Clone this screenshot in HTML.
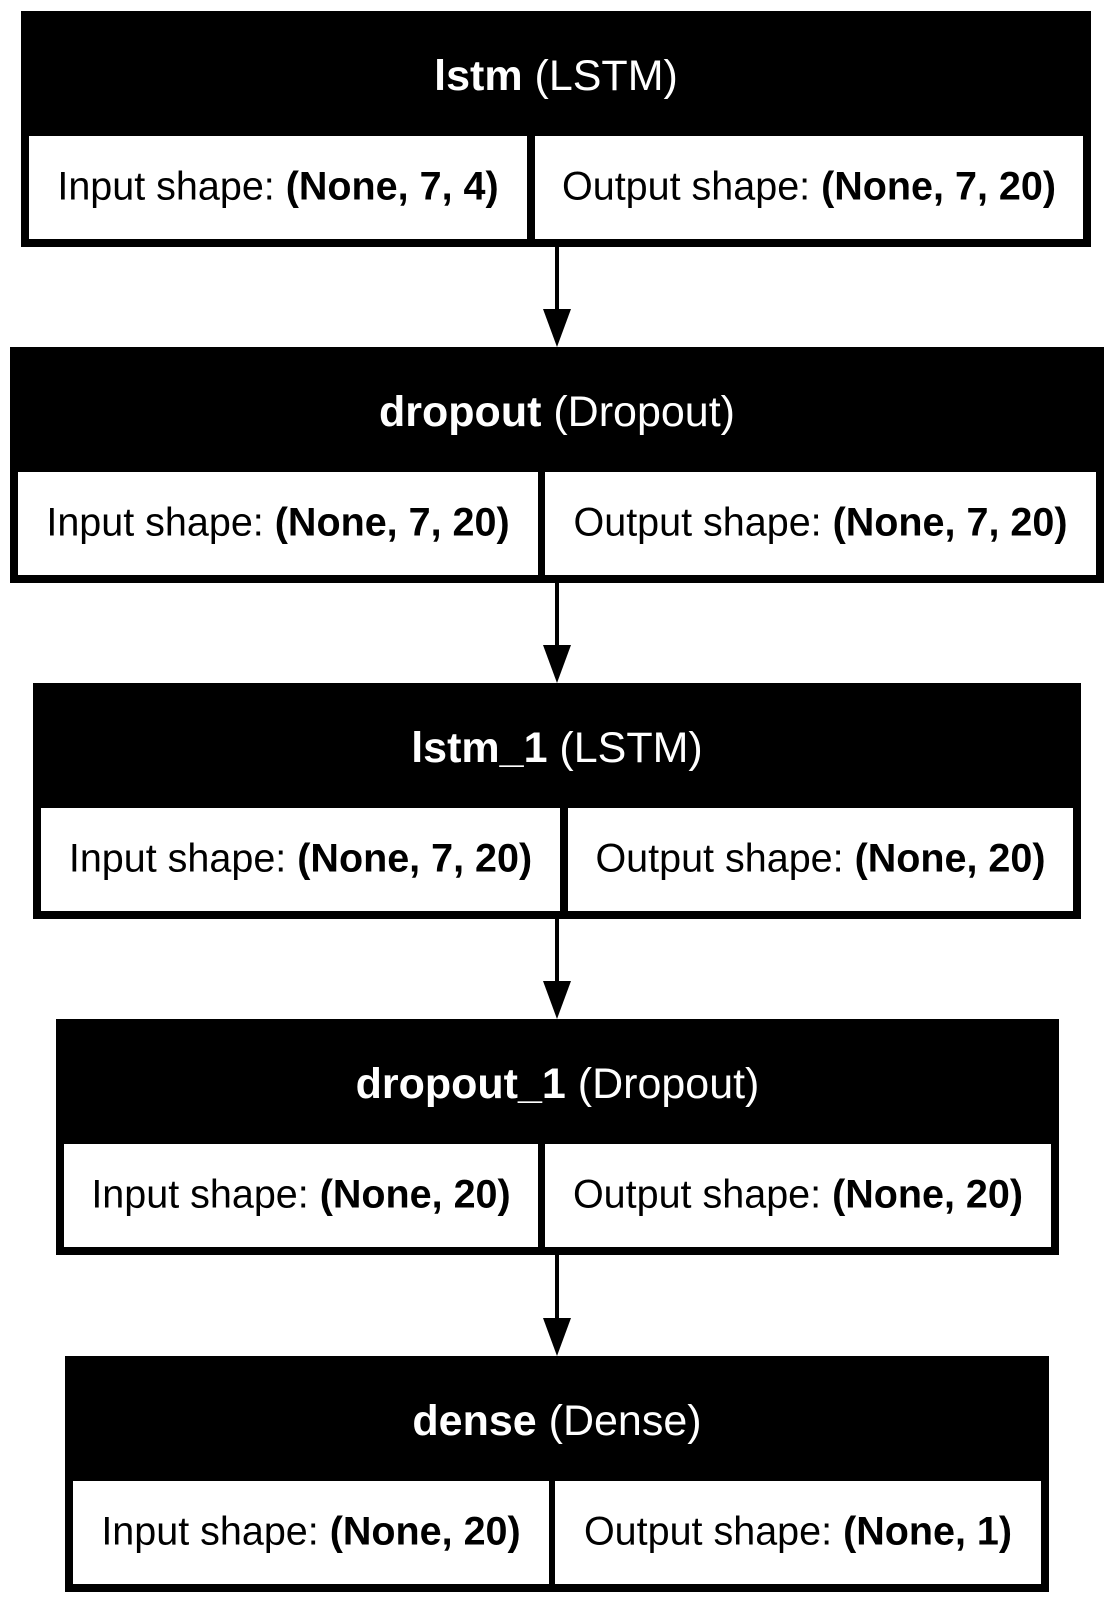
<!DOCTYPE html>
<html><head><meta charset="utf-8">
<style>
html,body{margin:0;padding:0;background:#fff;}
svg{display:block;}
text{font-family:"Liberation Sans",Arial,sans-serif;}
</style></head>
<body>
<svg id="g" width="1114" height="1603" viewBox="0 0 1114 1603" xmlns="http://www.w3.org/2000/svg"></svg>
<script>
const layerNames = ["lstm","dropout","lstm_1","dropout_1","dense"];
const layerTypes = ["LSTM","Dropout","LSTM","Dropout","Dense"];
const inputShapes = ["(None, 7, 4)","(None, 7, 20)","(None, 7, 20)","(None, 20)","(None, 20)"];
const outputShapes = ["(None, 7, 20)","(None, 7, 20)","(None, 20)","(None, 20)","(None, 1)"];
const boxX0 = [21,10,33,56,65];
const boxX1 = [1091,1104,1081,1059,1049];
const boxY0 = [11,347,683,1019,1356];
const divX0 = [527,538,560,538,549];
const divX1 = [535,545,568,545,555];
const NS="http://www.w3.org/2000/svg";
const svg=document.getElementById('g');
function mk(tag,attrs){const e=document.createElementNS(NS,tag);for(const k in attrs)e.setAttribute(k,attrs[k]);return e;}
const H=236, TH=125, B=8;
for(let i=0;i<layerNames.length;i++){
  const x0=boxX0[i],x1=boxX1[i],y0=boxY0[i],y1=y0+H;
  const g=mk('g',{});
  
  
  const r=mk('rect',{x:x0,y:y0,width:x1-x0,height:H,fill:'#000'});
  
  
  g.appendChild(r);
  const t=mk('text',{x:(x0+x1)/2,y:y0+79,'text-anchor':'middle','font-size':43,fill:'#fff'});
  
  
  const b1=mk('tspan',{'font-weight':'bold'});b1.textContent=layerNames[i];
  const b2=mk('tspan',{});b2.textContent=' ('+layerTypes[i]+')';
  t.appendChild(b1);t.appendChild(b2);g.appendChild(t);
  const cy0=y0+TH, cy1=y1-B;
  const cells=[[x0+B,divX0[i],'Input shape: ',inputShapes[i],'input-shape-cell'],[divX1[i],x1-B,'Output shape: ',outputShapes[i],'output-shape-cell']];
  for(const c of cells){
    const cr=mk('rect',{x:c[0],y:cy0,width:c[1]-c[0],height:cy1-cy0,fill:'#fff'});
    
    
    g.appendChild(cr);
    const ct=mk('text',{x:(c[0]+c[1])/2,y:(cy0+cy1)/2+12,'text-anchor':'middle','font-size':39.5,fill:'#000'});
    
    
    const s1=mk('tspan',{});s1.textContent=c[2];
    const s2=mk('tspan',{'font-weight':'bold'});s2.textContent=c[3];
    ct.appendChild(s1);ct.appendChild(s2);g.appendChild(ct);
  }
  svg.appendChild(g);
  if(i<layerNames.length-1){
    const ya=y1, yb=boxY0[i+1], cx=557;
    const a=mk('g',{});
    
    
    a.appendChild(mk('line',{x1:cx,y1:ya,x2:cx,y2:yb-36,stroke:'#000','stroke-width':4}));
    a.appendChild(mk('polygon',{points:`${cx-14},${yb-38} ${cx+14},${yb-38} ${cx},${yb}`,fill:'#000'}));
    svg.appendChild(a);
  }
}
</script>
</body></html>
